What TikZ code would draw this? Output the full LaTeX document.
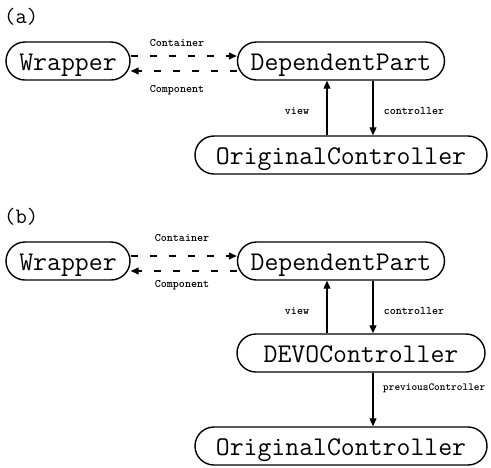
\documentclass[tikz,border=0pt]{standalone}
\usetikzlibrary{shapes.misc,arrows.meta}
\begin{document}
\begin{tikzpicture}[x=1pt,y=-1pt,
  box/.style={rounded rectangle, draw, line width=1.4pt, inner sep=0pt, minimum height=38pt,
    font=\ttfamily\fontsize{27}{28}\selectfont, text height=21pt, text depth=3pt},
  lbl/.style={font=\ttfamily\bfseries\fontsize{11.5}{12}\selectfont, inner sep=0pt},
  tag/.style={font=\ttfamily\fontsize{22}{24}\selectfont, inner sep=0pt, anchor=west},
  arr/.style={line width=1.1pt, -{Triangle[length=8pt,width=7pt]}},
  darr/.style={arr, dash pattern=on 7pt off 12pt}]
\useasboundingbox[fill=white] (0,0) rectangle (491,467);
% (a)
\node[tag] (ta) at (4,17) {(a)};
\node[box, minimum width=124pt] (Wa) at (68,61) {Wrapper};
\node[box, minimum width=207pt] (Da) at (341,61) {DependentPart};
\node[box, minimum width=292pt] (Oa) at (341,155) {OriginalController};
\draw[darr] ([yshift=5pt]Wa.east) -- ([yshift=5pt]Da.west);
\draw[darr] ([yshift=-10pt]Da.west) -- ([yshift=-10pt]Wa.east);
\node[lbl] (la1) at (177,43) {Container};
\node[lbl] (la2) at (177,90) {Component};
\draw[arr] ([xshift=-14pt]Oa.north) -- ([xshift=-14pt]Da.south);
\draw[arr] ([xshift=32pt]Da.south) -- ([xshift=32pt]Oa.north);
\node[lbl] (la3) at (297,111) {view};
\node[lbl] (la4) at (414,111) {controller};
% (b)
\node[tag] (tb) at (4,217) {(b)};
\node[box, minimum width=124pt] (Wb) at (68,261) {Wrapper};
\node[box, minimum width=207pt] (Db) at (341,261) {DependentPart};
\node[box, minimum width=248pt] (Vb) at (361,353) {DEVOController};
\node[box, minimum width=292pt] (Ob) at (341,446) {OriginalController};
\draw[darr] ([yshift=5pt]Wb.east) -- ([yshift=5pt]Db.west);
\draw[darr] ([yshift=-10pt]Db.west) -- ([yshift=-10pt]Wb.east);
\node[lbl] (lb1) at (182,238) {Container};
\node[lbl] (lb2) at (182,285) {Component};
\draw[arr] ([xshift=-34pt]Vb.north) -- ([xshift=-14pt]Db.south);
\draw[arr] ([xshift=32pt]Db.south) -- ([xshift=12pt]Vb.north);
\node[lbl] (lb3) at (297,311) {view};
\node[lbl] (lb4) at (414,311) {controller};
\draw[arr] ([xshift=12pt]Vb.south) -- ([xshift=32pt]Ob.north);
\node[lbl, anchor=west, font=\ttfamily\bfseries\fontsize{10.8}{12}\selectfont] (lb5) at (383,388) {previousController};
\end{tikzpicture}
\end{document}
